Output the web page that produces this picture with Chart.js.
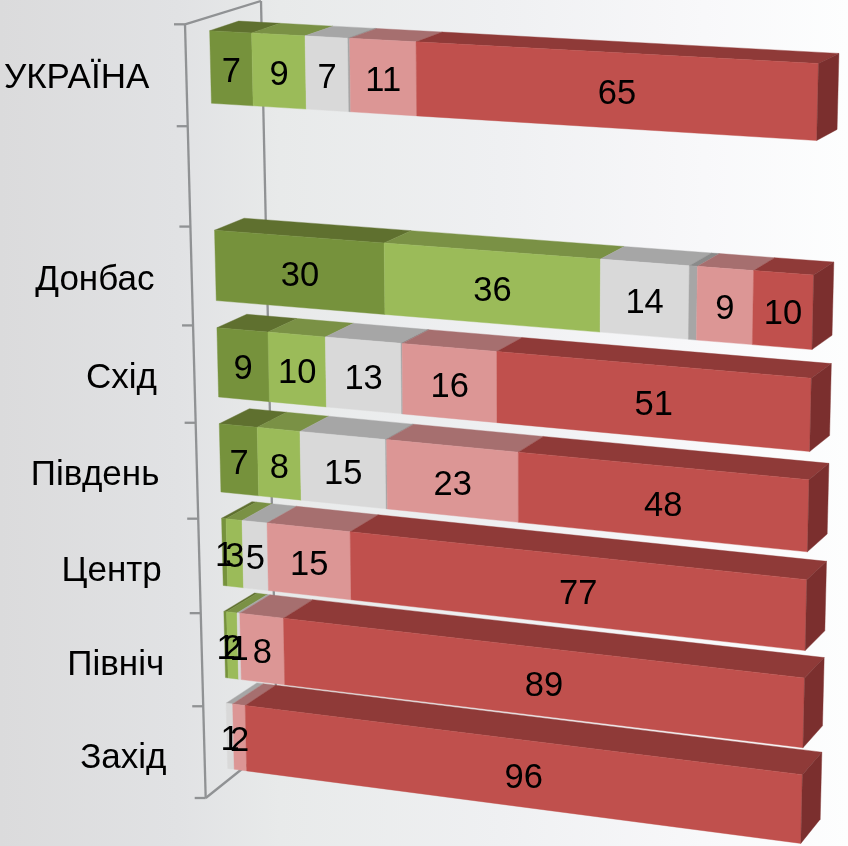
<!DOCTYPE html>
<html lang="uk"><head><meta charset="utf-8">
<style>
html,body{margin:0;padding:0;width:848px;height:846px;overflow:hidden;
background:linear-gradient(90deg,#dbdbdc 0%,#e1e2e4 21%,#e8eaea 33%,#eff0f2 59%,#f8f8fa 83%,#fdfefe 100%);}
canvas{display:block}
</style>
<script src="https://cdn.jsdelivr.net/npm/chart.js@4/dist/chart.umd.min.js"></script>
</head><body><canvas id="c" width="848" height="846"></canvas>
<script>
const categories = ['УКРАЇНА','','Донбас','Схід','Південь','Центр','Північ','Захід'];
const darkGreen  = [7.3,null,29.6,9,6.8,0.8,0.5,null];
const lightGreen = [9.2,null,36.3,10,7.6,2.9,1.9,null];
const neutral    = [7.3,null,14.45,13,15,4.5,0.5,1.2];
const sliver     = [0.3,null,1.3,0.2,0.2,null,null,null];
const pink       = [11.2,null,9,16,22.6,14.8,7.9,2.3];
const red        = [64.7,null,9.5,51,47.8,77,89.1,96.4];

const seriesList = [darkGreen,lightGreen,neutral,sliver,pink,red];
const totals = categories.map((_,i)=>seriesList.reduce((s,a)=>s+(a[i]||0),0));
const pct = a => a.map((v,i)=>v==null?null:v/totals[i]*100);

const styles = [
 {front:'#76923c',top:'#5f702f',label:true},
 {front:'#9bbb59',top:'#7a9145',label:true},
 {front:'#d9d9d9',top:'#a6a6a6',label:true},
 {front:'#a6a6a6',top:'#8a8a8a',label:false},
 {front:'#dc9695',top:'#a66f6f',label:true},
 {front:'#c0504d',top:'#8f3a38',label:true}
];
const sideColor='#7b2f2e';

function quad(p){
  const [[x0,y0],[x1,y1],[x2,y2],[x3,y3]]=p;
  const dx1=x1-x2,dx2=x3-x2,dx3=x0-x1+x2-x3,dy1=y1-y2,dy2=y3-y2,dy3=y0-y1+y2-y3;
  const det=dx1*dy2-dx2*dy1;
  const g=(dx3*dy2-dx2*dy3)/det,h=(dx1*dy3-dx3*dy1)/det;
  const a=x1-x0+g*x1,b=x3-x0+h*x3,d=y1-y0+g*y1,e=y3-y0+h*y3;
  return (u,v)=>{const w=g*u+h*v+1;return [(a*u+b*v+x0)/w,(d*u+e*v+y0)/w];};
}
// perspective planes of the 3-D view: front and back faces of the bars
const front=quad([[209.3,16.5],[818.8,48.5],[800.5,856.7],[228,781]]);
const back =quad([[238.3,7],[839.3,38.5],[819.9,832.2],[259,759]]);
const lerp=(a,b,t)=>a+(b-a)*t;
const axisFront=v=>{const p=front(0,v);return [p[0]+lerp(-24.3,-22.3,v),p[1]+lerp(7.8,17,v)];};
const axisBack =v=>{const p=back(0,v);return [p[0]+lerp(22.7,18,v),p[1]+lerp(-6,-18,v)];};

function poly(ctx,pts,fill){
  ctx.beginPath();pts.forEach((p,i)=>i?ctx.lineTo(p[0],p[1]):ctx.moveTo(p[0],p[1]));ctx.closePath();
  ctx.fillStyle=fill;ctx.fill();ctx.strokeStyle=fill;ctx.lineWidth=0.4;ctx.stroke();
}

const view3d={
 id:'view3d',
 beforeDatasetsDraw(chart){
  const ctx=chart.ctx,a=chart.chartArea,yS=chart.scales.y;
  const U=x=>(x-a.left)/(a.right-a.left),V=y=>(y-a.top)/(a.bottom-a.top);
  ctx.save();
  // axis frame
  ctx.strokeStyle='#909294';ctx.lineWidth=2.3;ctx.lineCap='butt';
  const line=(p,q)=>{ctx.beginPath();ctx.moveTo(p[0],p[1]);ctx.lineTo(q[0],q[1]);ctx.stroke();};
  line(axisFront(0),axisFront(1));line(axisBack(0),axisBack(1));
  line(axisFront(0),axisBack(0));line(axisFront(1),axisBack(1));
  const n=categories.length;
  for(let i=0;i<=n;i++){const p=axisFront(i/n);line([p[0]-11,p[1]],p);}
  // category labels
  ctx.fillStyle='#000';ctx.textAlign='right';ctx.textBaseline='middle';
  ctx.font='35px "Liberation Sans"';
  categories.forEach((c,i)=>{ if(!c)return;
    const v=V(yS.getPixelForValue(i)),p=axisFront(v);
    ctx.fillText(yS.getLabelForValue(i),p[0]-37-v,p[1]+2.5+4*v);
  });
  // bars, far row first
  const metas=chart.data.datasets.map((_,d)=>chart.getDatasetMeta(d));
  const labels=[];
  for(let i=0;i<n;i++){
    let last=null;
    metas.forEach((m,d)=>{
      const b=m.data[i],val=seriesList[d][i];
      if(val==null||!val)return;
      const u0=U(b.base),u1=U(b.x),v0=V(b.y-b.height/2),v1=V(b.y+b.height/2);
      const st=styles[d];
      const f00=front(u0,v0),f10=front(u1,v0),f11=front(u1,v1),f01=front(u0,v1);
      poly(ctx,[f00,f10,back(u1,v0),back(u0,v0)],st.top);
      poly(ctx,[f00,f10,f11,f01],st.front);
      last={u1,v0,v1};
      if(st.label){
        labels.push([String(Math.round(val)),(f00[0]+f10[0]+f11[0]+f01[0])/4,(f00[1]+f10[1]+f11[1]+f01[1])/4+4.5]);
      }
    });
    if(last){const {u1,v0,v1}=last;
      poly(ctx,[front(u1,v0),back(u1,v0),back(u1,v1),front(u1,v1)],sideColor);
    }
  }
  ctx.fillStyle='#000';ctx.textAlign='center';ctx.textBaseline='middle';ctx.font='34.5px "Liberation Sans"';
  labels.forEach(l=>ctx.fillText(l[0],l[1],l[2]));
  ctx.restore();
  return false;
 }
};

new Chart(document.getElementById('c'),{
 type:'bar',
 data:{labels:categories,datasets:seriesList.map((s,d)=>({
   label:'s'+d,data:pct(s),backgroundColor:styles[d].front,
   categoryPercentage:1,barPercentage:0.72}))},
 options:{indexAxis:'y',responsive:false,animation:false,
  layout:{padding:0},
  plugins:{legend:{display:false},tooltip:{enabled:false},title:{display:false}},
  scales:{
   x:{stacked:true,min:0,max:100,display:false},
   y:{stacked:true,display:false}
  }},
 plugins:[view3d]
});
</script></body></html>
